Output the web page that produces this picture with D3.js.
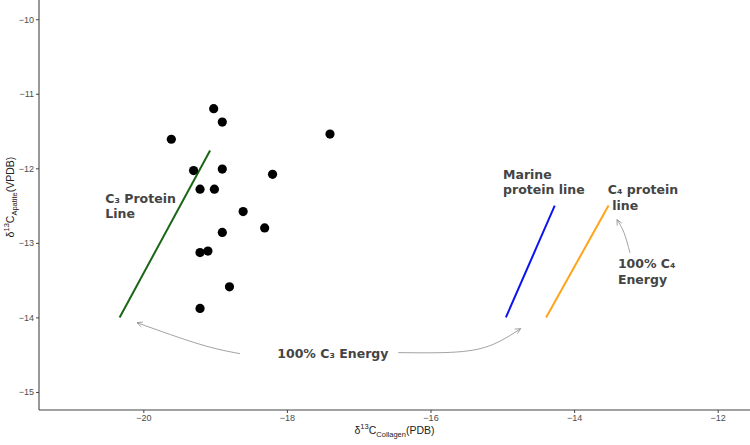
<!DOCTYPE html>
<html>
<head>
<meta charset="utf-8">
<script src="https://cdn.jsdelivr.net/npm/d3@7"></script>
<style>
  body { margin: 0; background: #fff; }
  svg { display: block; }
</style>
</head>
<body>
<div id="chart"></div>
<script>
// collagen vs apatite carbon values
const collagen = [-18.90, -19.02, -19.61, -17.40, -19.30, -18.90, -18.20, -19.21, -19.01, -18.61, -18.31, -18.90, -19.21, -19.10, -18.80, -19.21];
const apatite  = [-11.38, -11.20, -11.61, -11.54, -12.03, -12.01, -12.08, -12.28, -12.28, -12.58, -12.80, -12.86, -13.13, -13.11, -13.59, -13.88];

const xTicks = [-20, -18, -16, -14, -12];
const yTicks = [-10, -11, -12, -13, -14, -15];

// protein lines: [x0, y0, x1, y1]
const lineNames = ["c3", "marine", "c4"];
const lineColors = ["#1a6616", "#0a12f0", "#ffa31a"];
const lineCoords = [
  [-20.33, -14.0, -19.07, -11.76],
  [-14.95, -14.0, -14.27, -12.5],
  [-14.39, -14.0, -13.52, -12.5]
];

// annotation labels (left / baseline anchored)
const labelText = [["C₃ Protein", "Line"], ["Marine", "protein line"], ["C₄ protein", " line"], ["100% C₄", "Energy"]];
const labelX = [-20.53, -14.99, -13.53, -13.39];
const labelY = [-12.46, -12.14, -12.35, -13.34];
const c3EnergyText = "100% C₃ Energy";
const c3EnergyPos = [-17.36, -14.55];

// curved arrows, the last point is the head
const arrowPaths = [
  [[-18.653, -14.486], [-19.210, -14.361], [-20.088, -14.071]],
  [[-16.449, -14.472], [-15.635, -14.464], [-15.125, -14.361], [-14.744, -14.151]],
  [[-13.222, -13.133], [-13.306, -12.862], [-13.403, -12.688]]
];

const width = 750, height = 445;
const svg = d3.select("#chart").append("svg")
  .attr("width", width).attr("height", height);

const x = d3.scaleLinear().domain([-21.453, -11.55]).range([39, 750]);
const y = d3.scaleLinear().domain([-15.242, -9.742]).range([410, 0]);

// axes
const xAxis = svg.append("g")
  .attr("transform", `translate(0,${y.range()[0]})`)
  .call(d3.axisBottom(x).tickValues(xTicks).tickSize(3).tickPadding(1.5).tickFormat(d3.format("d")));
const yAxis = svg.append("g")
  .attr("transform", `translate(${x.range()[0]},0)`)
  .call(d3.axisLeft(y).tickValues(yTicks).tickSize(3).tickPadding(2).tickFormat(d3.format("d")));

[xAxis, yAxis].forEach(g => {
  g.select(".domain").attr("stroke", "#444").attr("stroke-width", 1.1);
  g.selectAll(".tick line").attr("stroke", "#444");
  g.selectAll(".tick text").attr("fill", "#4d4d4d")
    .style("font-family", "'Liberation Sans', Arial, sans-serif").style("font-size", "9px");
});
xAxis.select(".domain").attr("d", `M${x.range()[0]},0H${x.range()[1]}`);
yAxis.select(".domain").attr("d", `M0,${y.range()[0]}V${y.range()[1]}`);

// axis titles
const xt = svg.append("text")
  .attr("x", (x.range()[0] + x.range()[1]) / 2).attr("y", 434)
  .attr("text-anchor", "middle")
  .style("font-family", "'Liberation Sans', Arial, sans-serif").style("font-size", "10.5px").attr("fill", "#222");
xt.append("tspan").text("δ");
xt.append("tspan").attr("dy", -5).style("font-size", "7.5px").text("13");
xt.append("tspan").attr("dy", 5).text("C");
xt.append("tspan").attr("dy", 3).style("font-size", "7.5px").text("Collagen");
xt.append("tspan").attr("dy", -3).text("(PDB)");

const yt = svg.append("text")
  .attr("transform", "translate(14,197) rotate(-90)")
  .attr("text-anchor", "middle")
  .style("font-family", "'Liberation Sans', Arial, sans-serif").style("font-size", "10.5px").attr("fill", "#222");
yt.append("tspan").text("δ");
yt.append("tspan").attr("dy", -5).style("font-size", "7.5px").text("13");
yt.append("tspan").attr("dy", 5).text("C");
yt.append("tspan").attr("dy", 3).style("font-size", "7.5px").text("Apatite");
yt.append("tspan").attr("dy", -3).text("(VPDB)");

// protein lines
svg.selectAll("line.protein")
  .data(lineCoords)
  .join("line")
  .attr("class", (d, i) => "protein " + lineNames[i])
  .attr("x1", d => x(d[0])).attr("y1", d => y(d[1]))
  .attr("x2", d => x(d[2])).attr("y2", d => y(d[3]))
  .attr("stroke", (d, i) => lineColors[i])
  .attr("stroke-width", 2);

// points
svg.selectAll("circle.pt")
  .data(collagen)
  .join("circle")
  .attr("class", "pt")
  .attr("cx", d => x(d))
  .attr("cy", (d, i) => y(apatite[i]))
  .attr("r", 4.6)
  .attr("fill", "#000");

// labels
const labelFont = "'DejaVu Sans', Verdana, sans-serif";
labelText.forEach((lines, i) => {
  const t = svg.append("text")
    .attr("x", x(labelX[i])).attr("y", y(labelY[i]))
    .style("font-family", labelFont).style("font-weight", "bold")
    .style("font-size", "12.5px").style("white-space", "pre")
    .attr("fill", "#444");
  lines.forEach((s, j) => {
    t.append("tspan").attr("x", x(labelX[i])).attr("dy", j === 0 ? 0 : 15.5).text(s);
  });
});

const c3Label = svg.append("text")
  .attr("x", x(c3EnergyPos[0])).attr("y", y(c3EnergyPos[1]))
  .attr("text-anchor", "middle")
  .style("font-family", labelFont).style("font-weight", "bold").style("font-size", "12.5px")
  .attr("fill", "#444")
  .text(c3EnergyText);

// arrows
const curve = d3.line().x(d => x(d[0])).y(d => y(d[1])).curve(d3.curveNatural);
arrowPaths.forEach(pts => {
  svg.append("path")
    .attr("d", curve(pts))
    .attr("fill", "none").attr("stroke", "#8a8a8a").attr("stroke-width", 0.8);
  const a = pts[pts.length - 1], b = pts[pts.length - 2];
  const ax = x(a[0]), ay = y(a[1]);
  const ang = Math.atan2(ay - y(b[1]), ax - x(b[0]));
  const L = 6, spread = 0.45;
  const p1 = [ax - L * Math.cos(ang - spread), ay - L * Math.sin(ang - spread)];
  const p2 = [ax - L * Math.cos(ang + spread), ay - L * Math.sin(ang + spread)];
  svg.append("path")
    .attr("d", `M${p1[0]},${p1[1]}L${ax},${ay}L${p2[0]},${p2[1]}`)
    .attr("fill", "none").attr("stroke", "#8a8a8a").attr("stroke-width", 0.8);
});
</script>
</body>
</html>
